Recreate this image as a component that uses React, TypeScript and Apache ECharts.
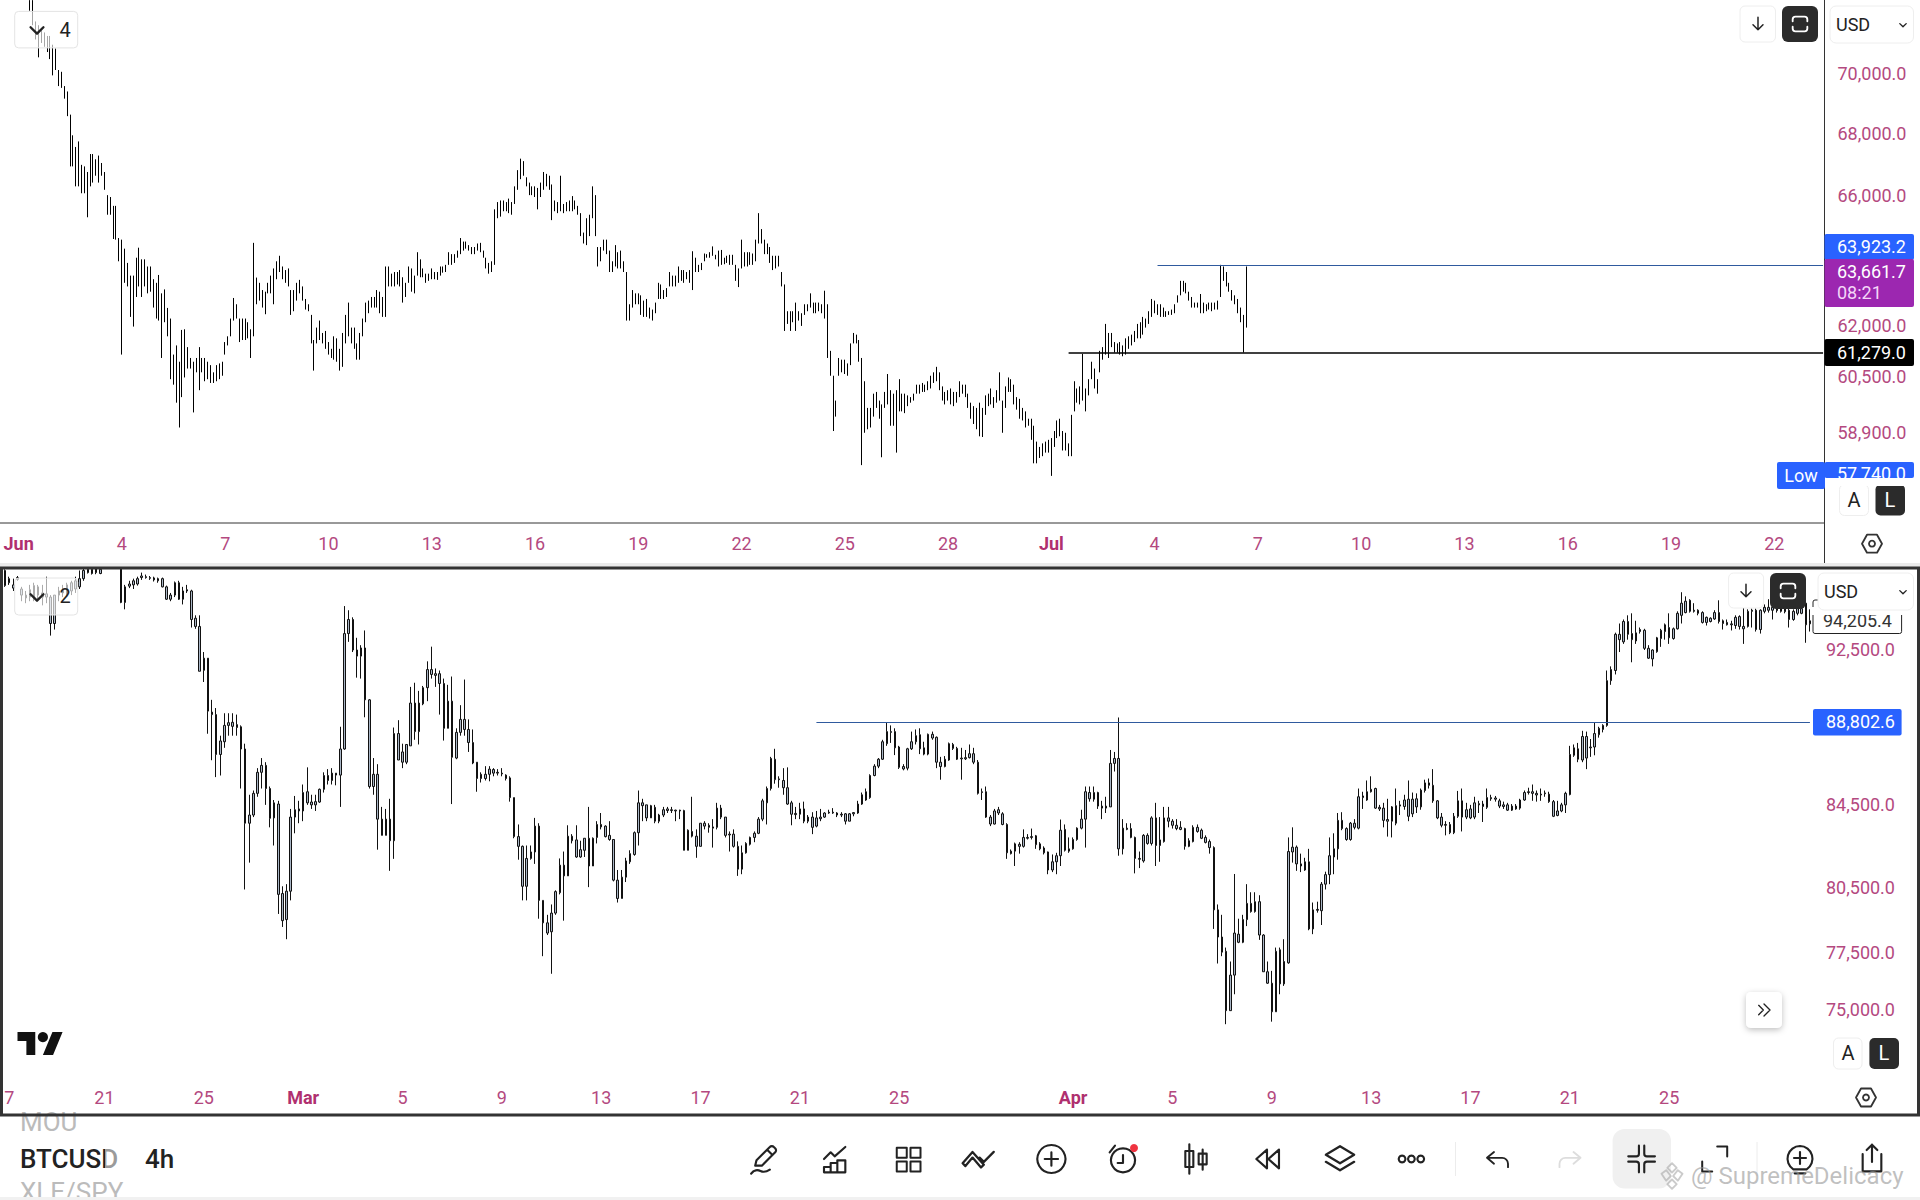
import React, { useEffect, useRef } from "react";
import * as echarts from "echarts";

// Upper pane rows, units of $10: [open, close, low, high]
const topHidden = 10;
const topJun1 = [
[7230,7250,7223,7260],[7190,7240,7173,7260],[7135,7172,7124,7186],[7090,7150,7063,7173],[7120,7145,7112,7155],[7110,7138,7099,7148],[7092,7125,7081,7136],[7075,7120,7057,7136],[7025,7085,7002,7106],[7035,7075,7020,7093],[6980,7008,6966,7020],[6972,7002,6960,7014],[6934,6956,6924,6966],[6885,6930,6866,6948],[6745,6835,6702,6871],[6725,6780,6702,6803],[6670,6735,6638,6765],[6670,6750,6638,6783],[6640,6690,6616,6707],[6635,6685,6616,6702],[6570,6650,6540,6684],[6665,6720,6638,6742],[6675,6720,6650,6742],[6685,6712,6672,6725],[6670,6720,6650,6737],[6682,6702,6672,6713],[6640,6670,6627,6684],[6562,6598,6548,6610],[6560,6592,6548,6604],[6495,6555,6472,6576],[6490,6555,6470,6576],[6420,6460,6403,6475],[6320,6440,6122,6470],[6360,6420,6337,6442],[6345,6385,6326,6398],[6265,6335,6234,6359],[6255,6330,6205,6359],[6320,6390,6294,6414],[6350,6420,6326,6445],[6320,6385,6294,6409],[6345,6390,6326,6409],[6325,6370,6305,6387],[6330,6370,6310,6387],[6285,6330,6262,6348],[6255,6315,6229,6337],[6260,6340,6223,6361],[6170,6275,6112,6305],[6245,6300,6218,6317],[6195,6245,6176,6261],[6095,6190,6050,6229],[6055,6105,6034,6122],[6020,6120,5982,6149],[5960,6060,5911,6101],[6040,6160,5998,6195],[6090,6170,6055,6197],[6095,6130,6081,6144],[6088,6105,6081,6112],[6040,6090,5954,6101],[6080,6102,6070,6112],[6050,6120,6018,6144]
];
const topJun2 = [
[6080,6102,6070,6112],[6060,6100,6044,6112],[6062,6090,6050,6101],[6050,6080,6039,6091],[6045,6062,6039,6070],[6055,6080,6044,6091],[6060,6085,6050,6096],[6068,6092,6060,6101],[6130,6150,6122,6159],[6155,6170,6149,6176],[6188,6218,6176,6229],[6240,6278,6223,6291],[6240,6262,6229,6272],[6175,6215,6159,6229],[6180,6215,6165,6229],[6178,6218,6165,6229],[6182,6208,6170,6218],[6130,6180,6112,6197],[6200,6320,6176,6460],[6290,6335,6272,6353],[6295,6325,6283,6337],[6275,6303,6262,6315],[6260,6295,6242,6310],[6312,6330,6305,6337],[6318,6345,6305,6359],[6300,6360,6272,6381],[6360,6390,6348,6403],[6382,6408,6370,6420],[6358,6378,6348,6387],[6347,6366,6337,6376],[6340,6370,6326,6381],[6260,6300,6240,6315],[6265,6300,6251,6315],[6295,6325,6283,6337],[6315,6335,6305,6346],[6295,6315,6283,6326],[6265,6280,6256,6288],[6256,6266,6251,6272],[6175,6225,6155,6240],[6095,6145,6075,6165],[6165,6190,6155,6202],[6178,6210,6165,6223],[6162,6178,6155,6186],[6152,6180,6139,6192],[6130,6150,6122,6159],[6118,6132,6112,6139],[6122,6162,6107,6176],[6118,6155,6101,6170],[6090,6125,6075,6139],[6110,6165,6086,6186],[6175,6222,6155,6240],[6200,6255,6176,6277],[6165,6190,6155,6202],[6155,6188,6139,6202],[6118,6145,6107,6155],[6125,6170,6107,6186],[6188,6218,6176,6229],[6232,6265,6218,6277],[6255,6275,6245,6283],[6270,6285,6262,6294]
];
const topJun3 = [
[6270,6285,6262,6294],[6275,6303,6262,6315],[6260,6295,6245,6310],[6250,6280,6234,6294],[6270,6360,6234,6387],[6340,6375,6326,6387],[6335,6355,6326,6365],[6338,6360,6326,6370],[6340,6360,6332,6370],[6338,6365,6326,6376],[6295,6340,6277,6354],[6305,6328,6294,6337],[6348,6375,6337,6387],[6325,6365,6310,6381],[6318,6345,6305,6359],[6375,6415,6359,6431],[6365,6395,6354,6409],[6360,6375,6354,6381],[6345,6358,6337,6365],[6348,6360,6343,6365],[6356,6372,6348,6381],[6354,6364,6348,6370],[6352,6364,6346,6370],[6365,6380,6359,6387],[6372,6382,6368,6387],[6376,6386,6370,6392],[6400,6422,6392,6431],[6400,6417,6392,6425],[6404,6418,6398,6425],[6420,6430,6414,6436],[6436,6462,6425,6475],[6442,6456,6436,6464],[6447,6458,6442,6464],[6440,6448,6436,6453],[6430,6442,6425,6447],[6431,6441,6425,6447],[6442,6452,6436,6458],[6438,6452,6431,6460],[6420,6430,6414,6436],[6388,6406,6381,6414],[6372,6390,6365,6398],[6378,6395,6370,6403],[6410,6540,6392,6565],[6545,6575,6537,6588],[6552,6580,6542,6593],[6566,6585,6559,6593],[6565,6580,6559,6588],[6562,6588,6553,6599],[6556,6578,6548,6588],[6592,6625,6582,6638],[6640,6675,6627,6690],[6675,6712,6661,6727],[6682,6708,6672,6719],[6645,6660,6638,6667],[6618,6640,6610,6650],[6616,6630,6610,6638],[6612,6628,6604,6638],[6580,6618,6565,6633],[6615,6638,6604,6650],[6640,6670,6627,6684]
];
const topJun4 = [
[6648,6668,6638,6678],[6638,6660,6627,6672],[6555,6620,6531,6644],[6566,6585,6559,6593],[6560,6580,6553,6588],[6565,6590,6559,6672],[6560,6574,6553,6582],[6565,6580,6559,6588],[6566,6585,6559,6593],[6570,6595,6559,6607],[6572,6586,6565,6593],[6555,6568,6548,6576],[6495,6540,6481,6553],[6465,6484,6458,6492],[6470,6520,6453,6537],[6495,6535,6481,6548],[6555,6620,6537,6638],[6500,6590,6481,6610],[6400,6435,6387,6447],[6412,6436,6403,6447],[6443,6460,6436,6470],[6435,6458,6425,6470],[6385,6420,6370,6436],[6378,6395,6370,6403],[6402,6438,6387,6453],[6392,6420,6381,6431],[6393,6425,6381,6436],[6378,6395,6370,6403],[6260,6345,6223,6370],[6235,6260,6223,6272],[6275,6303,6262,6315],[6280,6296,6272,6305],[6279,6297,6272,6305]
];
const topJul1 = [
[6255,6288,6240,6299],[6246,6272,6234,6283],[6246,6275,6234,6288],[6238,6254,6229,6262],[6230,6246,6223,6256],[6252,6268,6245,6277],[6298,6325,6288,6337],[6298,6320,6288,6332],[6295,6308,6288,6315],[6300,6314,6294,6321],[6335,6360,6326,6370],[6335,6350,6326,6359],[6333,6352,6326,6359],[6348,6375,6337,6387],[6350,6368,6343,6376],[6346,6368,6337,6376],[6354,6364,6348,6370],[6346,6366,6337,6376],[6340,6410,6315,6434],[6380,6402,6370,6414],[6376,6386,6370,6392],[6382,6392,6376,6398],[6408,6420,6403,6427],[6416,6422,6414,6425],[6418,6426,6414,6431],[6426,6442,6420,6449],[6412,6419,6409,6423],[6398,6425,6387,6436],[6403,6428,6392,6438],[6398,6408,6394,6414],[6404,6414,6398,6420],[6400,6416,6392,6423],[6398,6414,6392,6423],[6354,6380,6343,6392],[6338,6368,6324,6381],[6400,6450,6381,6470],[6396,6420,6387,6431],[6398,6420,6387,6431],[6400,6420,6392,6431],[6398,6418,6392,6427],[6418,6455,6403,6470],[6480,6530,6458,6553],[6470,6490,6458,6503],[6435,6458,6425,6470],[6432,6450,6425,6458],[6408,6435,6398,6447],[6386,6410,6376,6420],[6390,6410,6381,6420],[6394,6412,6387,6420],[6335,6360,6326,6370],[6225,6305,6192,6332],[6220,6242,6213,6251],[6205,6240,6192,6251],[6225,6242,6218,6251],[6210,6260,6192,6277],[6230,6244,6223,6251],[6215,6236,6207,6245],[6247,6265,6240,6272],[6256,6266,6251,6272],[6270,6295,6262,6305],[6252,6268,6245,6277],[6254,6270,6245,6277],[6257,6270,6251,6277],[6252,6265,6245,6272],[6248,6295,6229,6313],[6150,6255,6112,6272],[6075,6118,6060,6133],[5950,6035,5901,6060],[5952,5978,5942,5988]
];
const topJul2 = [
[6070,6100,6060,6112],[6078,6098,6070,6107],[6075,6098,6065,6107],[6068,6088,6060,6096],[6105,6140,6091,6155],[6162,6178,6155,6186],[6161,6174,6155,6181],[6115,6150,6101,6165],[5990,6095,5805,6112],[5950,6020,5896,6044],[5918,5952,5906,5967],[5925,5955,5911,5967],[5955,5992,5942,6008],[5975,6002,5967,6013],[5948,5975,5936,5988],[5900,5960,5827,5977],[5976,6003,5967,6013],[5995,6048,5977,6065],[5940,6000,5916,6018],[5940,5990,5916,6008],[5925,5998,5840,6018],[5975,6030,5957,6050],[5968,5995,5957,6008],[5965,5995,5952,6008],[5980,5995,5972,6003],[5985,5994,5982,5998],[5993,6002,5988,6008],[6014,6028,6008,6034],[6013,6027,6008,6034],[6019,6032,6013,6039],[6018,6028,6013,6034],[6024,6038,6018,6044],[6032,6052,6023,6060],[6046,6062,6039,6070],[6054,6076,6044,6086],[6030,6058,6018,6070],[5997,6020,5988,6029],[5985,6005,5977,6013],[5995,6012,5988,6018],[5988,6013,5977,6023],[5982,6005,5972,6013],[5990,6006,5982,6013],[6008,6035,5998,6044],[6013,6027,6008,6034],[6006,6026,5998,6034],[5977,5998,5967,6008],[5946,5972,5936,5982],[5933,5960,5921,5972],[5920,5952,5906,5967],[5910,5960,5886,5982],[5905,5950,5884,5967],[5960,5990,5947,6003],[5980,6000,5972,6008],[5988,6012,5977,6023],[5975,5990,5967,5998],[5990,6010,5982,6018],[6005,6050,5988,6070],[5920,5970,5896,5988],[5980,6015,5967,6029],[6022,6045,6013,6055],[6022,6042,6013,6050],[5990,6020,5977,6034],[5970,5990,5962,5998],[5948,5980,5936,5993],[5938,5958,5931,5967],[5920,5945,5911,5957],[5921,5931,5916,5936],[5890,5925,5876,5936],[5835,5895,5810,5916],[5822,5858,5810,5871],[5832,5848,5825,5856],[5838,5858,5830,5866],[5848,5863,5840,5871],[5848,5868,5840,5876],[5840,5870,5775,5881],[5866,5892,5856,5901],[5892,5920,5881,5931],[5897,5925,5886,5936],[5858,5890,5846,5901],[5858,5885,5846,5896],[5838,5858,5830,5866],[5860,5930,5830,5947]
];
const topJul3 = [
[5975,6025,5957,6044],[5992,6012,5982,6023],[5988,6015,5977,6029],[6020,6100,5988,6124],[5972,6010,5957,6023],[6014,6040,6003,6050],[6062,6090,6050,6101],[6035,6068,6023,6081],[6018,6040,6008,6050],[6085,6120,6070,6133],[6115,6135,6107,6144],[6142,6195,6122,6213],[6128,6170,6112,6186],[6153,6175,6144,6186],[6135,6150,6128,6159],[6134,6148,6128,6155],[6130,6150,6122,6159],[6124,6141,6117,6149],[6132,6158,6122,6170],[6148,6168,6139,6176],[6156,6174,6149,6181],[6166,6184,6159,6192],[6180,6204,6170,6213],[6181,6208,6170,6218],[6193,6222,6181,6234],[6208,6222,6202,6229],[6222,6243,6213,6251],[6246,6276,6234,6288],[6254,6274,6245,6283],[6247,6265,6240,6272],[6243,6264,6234,6272],[6240,6255,6234,6262],[6238,6247,6234,6251],[6243,6248,6240,6251],[6244,6252,6240,6256],[6251,6265,6245,6272],[6282,6293,6277,6299],[6308,6332,6299,6343],[6318,6335,6310,6343],[6312,6330,6305,6337],[6290,6303,6283,6310],[6270,6286,6262,6294],[6266,6273,6262,6277],[6265,6272,6262,6277],[6258,6290,6245,6303],[6252,6268,6245,6277],[6256,6266,6251,6272],[6261,6272,6256,6277],[6257,6271,6251,6277],[6262,6271,6256,6277],[6262,6276,6256,6283],[6315,6375,6294,6392],[6352,6378,6343,6387],[6335,6360,6326,6370],[6316,6330,6310,6337],[6290,6307,6283,6315],[6278,6292,6272,6299],[6255,6278,6245,6288],[6228,6252,6218,6262],[6150,6225,6128,6240],[6240,6380,6202,6387]
];

// Lower pane, 4h BTCUSD rows, units of $10 before the axis calibration: [open, close, low, high]
const btcFeb = [
[9600,9685,9593,9692],[9616,9639,9604,9650],[9586,9604,9570,9639],[9635,9645,9627,9654],[9547,9581,9513,9593],[9531,9547,9502,9570],[9536,9577,9513,9604],[9536,9600,9513,9616],[9547,9593,9524,9604],[9536,9559,9490,9604],[9536,9554,9502,9650],[9390,9536,9324,9547],[9390,9547,9357,9547],[9547,9570,9513,9593],[9559,9581,9536,9604],[9547,9604,9536,9616],[9570,9616,9547,9627],[9581,9627,9559,9650],[9593,9639,9581,9685],[9639,9685,9627,9696],[9673,9692,9668,9701],[9668,9692,9662,9708],[9673,9696,9664,9708],[9668,9692,9664,9701],[9740,9770,9725,9790],[9790,9830,9770,9860],[9760,9810,9745,9835],[9730,9770,9705,9790],
[9506,9696,9502,9708],[9506,9593,9468,9604],[9597,9609,9586,9627],[9604,9627,9581,9639],[9609,9639,9600,9650],[9645,9654,9632,9673],[9645,9650,9639,9662],[9641,9645,9632,9654],[9632,9643,9623,9650],[9627,9639,9616,9645],[9593,9639,9590,9645],[9524,9593,9520,9600],[9524,9547,9513,9559],[9547,9616,9536,9623],[9524,9616,9520,9627],[9524,9570,9495,9593],[9570,9577,9559,9604],[9412,9570,9368,9577],[9374,9419,9361,9435],[9132,9374,9132,9435],[9137,9202,9075,9235],[8922,9202,8805,9202],[8904,8917,8670,8981],[8699,8904,8585,8938],[8699,8768,8593,8795],[8764,8848,8733,8911],[8848,8862,8795,8911],[8843,8864,8795,8911],[8837,8852,8795,8904],[8727,8841,8528,8848],[8357,8727,8040,8754],[8357,8397,8167,8497],[8397,8504,8387,8518],[8504,8609,8487,8630],[8609,8644,8528,8681],[8528,8644,8447,8660],[8381,8528,8337,8538],[8383,8457,8249,8471],[8017,8451,7926,8467],[7895,8021,7866,8055],[7900,8032,7810,8065]
];
const btcMar1 = [
[8032,8387,7989,8427],[8387,8423,8308,8491],[8417,8427,8357,8467],[8417,8508,8367,8548],[8457,8512,8447,8634],[8447,8461,8427,8497],[8447,8463,8417,8497],[8461,8524,8457,8528],[8524,8593,8508,8609],[8568,8593,8548,8625],[8568,8605,8548,8630],[8595,8605,8544,8605],[8595,8727,8437,8841],[8727,9335,8723,9486],[9335,9412,9290,9463],[9246,9412,9235,9424],[9213,9246,9098,9312],[9213,9257,9093,9272],[8981,9257,8890,9352],[8538,8981,8528,8985],[8538,8599,8497,8681],[8377,8599,8229,8650],[8298,8377,8298,8437],[8298,8377,8298,8427],[8272,8377,8128,8477],[8272,8806,8185,8837],[8671,8806,8671,8875],[8660,8712,8630,8754],[8660,8750,8650,8750],[8743,8964,8743,9049],[8816,8964,8774,9071],[8816,8964,8750,9028],[8960,9045,8953,9054],[9045,9141,8974,9185],[9115,9141,9093,9264],[9110,9119,9049,9147],[9067,9119,8904,9136],[8833,9067,8770,9093],[8833,8974,8833,9060],[8685,8974,8451,9104],[8681,8812,8675,8833],[8812,8879,8795,8953],[8827,8879,8795,9088],[8760,8827,8712,8879],[8656,8760,8650,8827],[8578,8660,8512,8660],[8578,8599,8558,8609],[8578,8599,8568,8640],[8599,8625,8564,8640],[8605,8623,8589,8630],[8605,8609,8593,8625],[8601,8605,8589,8630],[8578,8595,8568,8599],[8483,8581,8463,8589],[8292,8483,8284,8483],[8245,8292,8181,8351],[8055,8245,7989,8249],[8055,8187,7989,8249],[8187,8218,8181,8249],[8218,8343,8161,8383],[7989,8343,7904,8357],[7885,7989,7733,7989],[7838,7885,7829,7922],[7844,7930,7654,7970],[7930,8030,7922,8036],[8025,8155,8017,8187],[8104,8155,7895,8220],[8104,8294,8104,8347],[8272,8294,8259,8304],[8194,8276,8190,8347],[8194,8229,8190,8272],[8226,8284,8194,8284],[8151,8284,8051,8437],[8151,8284,8151,8288],[8288,8351,8259,8367],[8339,8351,8327,8407],[8292,8343,8288,8347],[8278,8298,8272,8367],[8084,8278,8078,8278],[7998,8084,7979,8132],[7998,8098,7998,8132],[8098,8175,8075,8190],[8171,8210,8161,8226],[8206,8311,8200,8317],[8311,8457,8249,8518]
];
const btcMar2 = [
[8443,8457,8367,8477],[8383,8447,8367,8447],[8383,8443,8383,8447],[8367,8435,8357,8447],[8367,8397,8357,8403],[8397,8423,8387,8437],[8419,8427,8407,8437],[8419,8423,8407,8437],[8417,8421,8367,8423],[8417,8421,8377,8423],[8226,8419,8226,8423],[8226,8323,8226,8327],[8294,8317,8288,8487],[8245,8294,8190,8327],[8245,8357,8245,8357],[8343,8357,8327,8367],[8337,8347,8311,8357],[8333,8339,8239,8377],[8337,8431,8327,8457],[8387,8431,8377,8447],[8298,8387,8288,8387],[8300,8304,8220,8317],[8245,8304,8239,8327],[8136,8245,8104,8269],[8136,8214,8112,8249],[8214,8259,8210,8265],[8255,8288,8249,8292],[8288,8308,8265,8317],[8308,8377,8304,8387],[8377,8467,8367,8477],[8457,8528,8351,8538],[8528,8679,8518,8687],[8572,8675,8552,8728],[8572,8576,8532,8589],[8532,8568,8497,8630],[8451,8532,8447,8634],[8401,8457,8347,8467],[8399,8405,8377,8437],[8401,8427,8377,8457],[8367,8427,8357,8463],[8367,8387,8357,8397],[8337,8387,8304,8411],[8343,8383,8337,8417],[8379,8387,8367,8427],[8387,8407,8383,8411],[8407,8411,8403,8423],[8407,8411,8403,8431],[8397,8407,8387,8411],[8397,8401,8387,8411],[8367,8403,8351,8407],[8367,8403,8367,8407],[8403,8409,8391,8411],[8407,8451,8403,8467],[8451,8497,8447,8508],[8471,8512,8467,8528],[8483,8593,8477,8599],[8593,8640,8589,8650],[8640,8675,8630,8681],[8675,8764,8671,8774],[8754,8816,8743,8862],[8812,8816,8758,8848]
];
const btcMar3 = [
[8733,8816,8696,8833],[8634,8737,8626,8743],[8626,8638,8619,8650],[8630,8728,8619,8733],[8728,8764,8722,8816],[8764,8795,8750,8827],[8728,8800,8701,8833],[8701,8733,8695,8764],[8701,8802,8695,8806],[8783,8802,8774,8816],[8660,8787,8630,8791],[8638,8660,8572,8687],[8638,8675,8634,8691],[8671,8754,8667,8760],[8730,8750,8722,8758],[8675,8730,8671,8738],[8677,8681,8572,8733],[8677,8683,8671,8722],[8683,8703,8679,8750],[8660,8703,8650,8733],[8504,8660,8498,8671],[8508,8512,8471,8528],[8387,8512,8383,8538],[8353,8387,8343,8397],[8353,8417,8351,8427],[8407,8423,8397,8437],[8351,8403,8347,8411],[8214,8351,8185,8357],[8210,8222,8206,8230],[8222,8257,8151,8263],[8245,8255,8210,8265],[8245,8288,8239,8327],[8284,8288,8278,8304],[8288,8292,8278,8331],[8253,8296,8233,8300],[8233,8257,8226,8265],[8214,8237,8206,8245],[8132,8218,8112,8220],[8132,8171,8122,8206],[8171,8200,8112,8214],[8200,8323,8151,8375],[8226,8327,8220,8351],[8222,8233,8214,8288],[8233,8278,8229,8288],[8278,8333,8272,8337],[8333,8377,8327,8423],[8377,8512,8239,8538],[8477,8508,8463,8538],[8475,8508,8463,8538],[8441,8508,8427,8512],[8431,8441,8377,8467],[8431,8441,8407,8487],[8437,8654,8437,8722],[8654,8679,8613,8712],[8233,8679,8200,8889],[8233,8333,8206,8377],[8327,8333,8323,8357],[8288,8331,8284,8357],[8187,8288,8116,8292],[8183,8187,8141,8220],[8175,8298,8167,8304],[8259,8298,8253,8308],[8259,8383,8249,8391],[8249,8383,8151,8457],[8249,8276,8171,8387],[8268,8383,8263,8437],[8367,8383,8337,8437],[8347,8367,8331,8377],[8331,8347,8323,8377],[8327,8337,8323,8367],[8245,8331,8229,8335],[8245,8272,8241,8284],[8268,8337,8264,8347],[8317,8337,8311,8351],[8284,8323,8280,8331],[8264,8288,8259,8298],[8239,8268,8210,8278]
];
const btcApr1 = [
[7945,8239,7857,8245],[7820,7945,7700,7970],[7751,7820,7733,7922],[7491,7755,7432,7772],[7491,7648,7491,7709],[7648,7838,7563,8113],[7796,7833,7792,7904],[7796,7900,7792,7922],[7900,7975,7870,8065],[7937,7975,7932,8027],[7937,7983,7932,8027],[7829,7983,7807,8013],[7663,7829,7663,7833],[7612,7663,7609,7709],[7486,7612,7443,7667],[7486,7755,7486,7772],[7609,7762,7563,7772],[7609,7709,7600,7810],[7703,8220,7699,8288],[8218,8241,8167,8337],[8161,8241,8128,8249],[8151,8161,8122,8210],[8132,8171,8128,8190],[7857,8171,7851,8233],[7857,7945,7833,7979],[7943,7947,7932,7983],[7941,8065,7875,8075],[8065,8110,8040,8124],[8110,8200,8065,8288],[8194,8233,8112,8308],[8233,8371,8181,8407],[8331,8371,8323,8411],[8278,8331,8272,8337],[8278,8357,8272,8363],[8337,8357,8327,8377],[8333,8487,8327,8528],[8483,8491,8427,8512],[8471,8512,8467,8568],[8512,8524,8508,8589],[8431,8528,8427,8532],[8427,8435,8417,8447],[8371,8431,8337,8457],[8367,8375,8292,8477],[8367,8437,8288,8441],[8357,8443,8347,8528],[8441,8447,8397,8467],[8439,8471,8423,8497],[8391,8475,8367,8568],[8403,8475,8387,8508],[8437,8477,8407,8504],[8437,8520,8423,8528],[8518,8556,8508,8572],[8544,8556,8528,8578],[8467,8544,8457,8625],[8383,8467,8377,8471],[8347,8387,8337,8407],[8347,8351,8298,8367],[8311,8351,8304,8363],[8311,8391,8304,8407],[8391,8467,8383,8516],[8387,8467,8317,8528],[8387,8423,8377,8457],[8383,8427,8377,8447],[8387,8457,8377,8487],[8447,8453,8407,8467],[8439,8451,8363,8467],[8435,8483,8427,8528],[8477,8483,8467,8497],[8475,8481,8463,8491],[8441,8467,8431,8477],[8439,8447,8427,8463],[8421,8447,8417,8457],[8421,8441,8417,8451],[8427,8441,8423,8451],[8431,8471,8423,8477],[8471,8508,8467,8518],[8508,8512,8498,8532],[8504,8512,8467,8548],[8496,8504,8463,8518],[8496,8500,8467,8528],[8502,8506,8487,8518],[8463,8500,8457,8512],[8391,8463,8387,8471],[8395,8417,8391,8467],[8417,8447,8411,8457],[8447,8504,8407,8512]
];
const btcApr2 = [
[8498,8699,8494,8743],[8695,8733,8687,8750],[8675,8728,8660,8758],[8671,8791,8660,8820],[8681,8791,8625,8816],[8733,8737,8687,8778],[8737,8806,8695,8862],[8800,8833,8785,8841],[8827,8848,8812,8854],[8848,9082,8841,9136],[9082,9141,9060,9158],[9136,9331,9115,9340],[9302,9331,9235,9390],[9290,9401,9279,9412],[9331,9401,9302,9435],[9302,9335,9180,9446],[9295,9339,9279,9405],[9346,9357,9335,9368],[9255,9353,9246,9361],[9202,9255,9198,9272],[9198,9246,9158,9250],[9237,9312,9231,9317],[9308,9353,9263,9361],[9346,9383,9302,9390],[9312,9368,9279,9446],[9308,9361,9302,9368],[9361,9446,9357,9457],[9435,9502,9390,9563],[9450,9513,9446,9540],[9457,9518,9450,9524],[9457,9463,9450,9502],[9446,9463,9435,9468],[9396,9450,9390,9457],[9396,9424,9379,9428],[9401,9419,9396,9424],[9415,9450,9410,9463],[9401,9450,9390,9518],[9390,9405,9357,9412],[9383,9396,9379,9412],[9383,9388,9352,9405],[9379,9424,9361,9435],[9374,9428,9357,9435],[9361,9374,9279,9490],[9374,9457,9368,9468],[9457,9463,9368,9472],[9357,9463,9346,9472],[9357,9463,9335,9468],[9457,9479,9446,9495],[9463,9479,9450,9524],[9463,9479,9412,9490],[9461,9472,9450,9513],[9457,9472,9450,9490],[9455,9472,9446,9486],[9412,9463,9368,9472],[9412,9457,9405,9468],[9446,9472,9435,9479],[9446,9472,9441,9486],[9383,9502,9285,9502],[9388,9405,9346,9468]
];

const topTickIndex = [6,42,78,114,150,186,222,258,294,330,366,402,438,474,510,546,582,618];
const topTickLabels = ["Jun","4","7","10","13","16","19","22","25","28","Jul","4","7","10","13","16","19","22"];
const bottomTickIndex = [1,24,48,72,96,120,144,168,192,216,258,282,306,330,354,378,402];
const bottomTickLabels = ["7","21","25","Mar","5","9","13","17","21","25","Apr","5","9","13","17","21","25"];
const topPriceTicks = [58900,60500,62000,66000,68000,70000];
const bottomPriceTicks = [75000,77500,80500,84500,92500];
const topResistance = 63923.2;
const topSupport = 61279.0;
const bottomResistance = 88802.6;
const topLast = "63,661.7";
const topCountdown = "08:21";
const topLow = "57,740.0";
const bottomLast = "94,205.4";

const PINK = "#b4497f";
const BLUE = "#2962ff";
const DARK = "#2b2b2b";
const LINE_BLUE = "#2f5a9e";
const TOP_BARS = 636;
const BOTTOM_BARS = 437;
const BOTTOM_CALIBRATION = 150;
const monthNames = ["Jun","Jul","Mar","Apr"];

const topRows = [...topJun1,...topJun2,...topJun3,...topJun4,...topJul1,...topJul2,...topJul3];
const bottomRows = [...btcFeb,...btcMar1,...btcMar2,...btcMar3,...btcApr1,...btcApr2];
const ICONS:Record<string,string> = {
  pen:"M5 17l1-4L16 3a2 2 0 0 1 3 0l1 1a2 2 0 0 1 0 3L10 17zM14 5l4 4M2 23c2-3 5-3 7-2s4 1 7-1",
  ind:"M3 12l5-5 3 3 8-7M3 22v-4h5v4zM8 22v-7h5v7zM13 22v-9h6v9z",
  grid:"M3 3h8v8H3zM14 3h8v8h-8zM3 14h8v8H3zM14 14h8v8h-8z",
  tpl:"M2 17l5-6 6 7 2-2-8-9-7 8zM12 11l3 3 7-7",
  plus:"M12 1.5a10.5 10.5 0 1 0 .01 0zM12 7v10M7 12h10",
  alarm:"M12 4a9 9 0 1 0 .01 0zM12 9v6H8M2 7l4-5",
  candle:"M7 1v22M17 5v15M4 6h6v12H4zM14 8h6v8h-6z",
  rew:"M12 5l-8 7 8 7zM21 5l-8 7 8 7z",
  layer:"M12 3l10 6-10 6L2 9zM2 14l10 6 10-6",
  dots:"M5 9.5a2.5 2.5 0 1 0 .01 0zM12 9.5a2.5 2.5 0 1 0 .01 0zM19 9.5a2.5 2.5 0 1 0 .01 0z",
  undo:"M9 6l-6 5 6 5M3 11h13a5 5 0 0 1 5 5v3",
  redo:"M15 6l6 5-6 5M21 11H8a5 5 0 0 0-5 5v3",
  inw:"M10 2v6a2 2 0 0 1-2 2H2M14 2v6a2 2 0 0 0 2 2h6M2 14h6a2 2 0 0 1 2 2v6M22 14h-6a2 2 0 0 0-2 2v6",
  outw:"M14 2h8v8M10 22H2v-8",
  bulb:"M12 1.5a9.5 9.5 0 0 0-5 17.5h10a9.5 9.5 0 0 0-5-17.5zM12 6v9M7.5 10.5h9M8 22h8",
  share:"M5 9v13h14V9M12 2v13M8 6l4-4 4 4",
  sync:"M4 9V7a3 3 0 0 1 3-3h10a3 3 0 0 1 3 3v2M4 15v2a3 3 0 0 0 3 3h10a3 3 0 0 0 3-3v-2",
  down:"M12 4v15M6 13l6 6 6-6",
  chev:"M5 9l7 7 7-7",
  fwd:"M4 5l7 7-7 7M12 3l9 9-9 9",
  hex:"M7 3h10l5 9-5 9H7l-5-9zM12 9a3 3 0 1 0 .01 0z",
  diamond:"M12 1l4 4-4 4-4-4zM3 10l4-3 4 5-4 4zM21 10l-4-3-4 5 4 4zM12 15l4 4-4 4-4-4z",
};
Object.keys(ICONS).forEach(k => echarts.graphic.registerShape("ic_"+k, (echarts.graphic as any).extendPath(ICONS[k], {})));
echarts.graphic.registerShape("tvlogo", (echarts.graphic as any).extendPath("M14 22H7V11H0V4h14v18zM28 22h-8l7.5-18h8L28 22zM20 4a4 4 0 1 1-.01 0z", {}));

const icon = (k:string,cx:number,cy:number,size:number,color:string,lw=1.6,z=110) => ({
  type:"ic_"+k, x:cx-size/2, y:cy-size/2, scaleX:size/24, scaleY:size/24, z, silent:true,
  style:{fill:"none",stroke:color,lineWidth:lw,lineJoin:"round",lineCap:"round"},
});
const box = (x:number,y:number,w:number,h:number,fill:string,r=0,stroke?:string,z=100) => ({
  type:"rect", z, silent:true, shape:{x,y,width:w,height:h,r}, style:{fill,stroke:stroke||"none",lineWidth:stroke?1:0},
});
const label = (text:string,x:number,y:number,font:string,fill:string,align="left",z=105) => ({
  type:"text", z, silent:true, style:{text,x,y,font,fill,textAlign:align,textVerticalAlign:"middle",align,verticalAlign:"middle"},
});
const line = (x1:number,y1:number,x2:number,y2:number,stroke:string,w=1,z=100) => ({
  type:"line", z, silent:true, shape:{x1,y1,x2,y2}, style:{stroke,lineWidth:w},
});

const F18 = '18px Roboto';
const money = (v:number) => v.toLocaleString("en-US",{minimumFractionDigits:1});
const chrome:any[] = [
  line(0,523,1824.5,523,"#333"), line(1824.5,0,1824.5,563,"#333"),
  box(0,563,1920,5,"#ebebeb"),
  box(1824.5,234,89.5,26,BLUE,2), label(money(topResistance),1837,246,F18,"#fff"),
  box(1824.5,259,89.5,48,"#9c27b0",2), label(topLast,1837,271,F18,"#fff"), label(topCountdown,1837,292,F18,"#f4d6f8"),
  box(1824.5,339,89.5,27,"#000",2), label(money(topSupport),1837,352,F18,"#fff"),
  box(1777,462,48,27,BLUE,2), label("Low",1801,475,F18,"#fff","center"),
  box(1824.5,462,89.5,16,BLUE,2), label(topLow,1837,473,F18,"#fff"),
  box(1825.5,478,95,8,"#fff",0,undefined,106),
  box(1830,6,83.5,37,"#fff",6,"#eeeeee"), label("USD",1836,24,F18,"#222"), icon("chev",1903,25,11,"#222",3),
  box(1740,6,35.5,36,"#fff",5,"#eeeeee"), icon("down",1758,24,20,"#222",1.8),
  box(1782,6,36,36,DARK,6), icon("sync",1800,24,22,"#fff",2),
  box(1839.5,484.5,29,31,"#fff",5,"#eeeeee"), label("A",1854,500,'20px Roboto',"#222","center"),
  box(1875.5,484.5,29.5,31,DARK,5), label("L",1890,500,'20px Roboto',"#fff","center"),
  icon("hex",1872,543.7,24,"#333",1.8),
  box(14.7,11.4,63,36.5,"rgba(255,255,255,0.65)",4,"#e4e4e4"), icon("chev",37,30,22,"#222",2.6), label("4",65,29.5,'20px Roboto',"#222","center"),
  box(1813,600,88.6,33.5,"#fff",2,"#222",99), label(bottomLast,1857.5,620,F18,"#333","center",99),
  box(1812,607,92,8,"#fff",0,undefined,99.5),
  box(1818,573,95.5,37,"#fff",6,"#eeeeee"), label("USD",1824,591,F18,"#222"), icon("chev",1903,592,11,"#222",3),
  box(1728.6,573,35,35,"#fff",5,"#eeeeee"), icon("down",1746,591,20,"#222",1.8),
  box(1770,573,36,36,DARK,6), icon("sync",1788,591,22,"#fff",2),
  box(1813,709,88.6,26.5,BLUE,2), label(money(bottomResistance),1826,721,F18,"#fff"),
  {...box(1746,992,36,36,"#fff",5), style:{fill:"#fff",shadowBlur:6,shadowOffsetY:2,shadowColor:"rgba(0,0,0,0.25)"}}, icon("fwd",1764,1010,16,"#222",2),
  box(1833.5,1038,28.5,31,"#fff",5,"#eeeeee"), label("A",1848,1053,'20px Roboto',"#222","center"),
  box(1869.4,1038,29.6,31,DARK,5), label("L",1884,1053,'20px Roboto',"#fff","center"),
  icon("hex",1866,1097.5,24,"#333",1.8),
  box(14.7,578,63,37,"rgba(255,255,255,0.65)",4,"#e4e4e4"), icon("chev",37,597,22,"#222",2.6), label("2",65,596,'20px Roboto',"#222","center"),
  {type:"tvlogo",x:17.5,y:1027,scaleX:1.27,scaleY:1.27,z:100,silent:true,style:{fill:"#111"}},
  label("MOU",20,1122,'26px Roboto',"#bbbbbb","left",101),
  {type:"rect",z:103,silent:true,shape:{x:1.5,y:568,width:1917,height:547},style:{fill:"none",stroke:"#333",lineWidth:3}},
  label("BTCUSD",20,1159,'500 26px Roboto',"#222"),
  box(105,1140,14,40,"rgba(255,255,255,0.55)",0,undefined,106),
  label("4h",145,1159,'500 26px Roboto',"#222"),
  label("XLE/SPY",20,1192,'26px Roboto',"#bbbbbb","left",101),
  box(0,1197,1920,3,"#f1f1f1",0,undefined,102),
  icon("pen",764.5,1159,32,"#222"), icon("ind",836,1159,32,"#222"), icon("grid",908,1159,30,"#222"),
  icon("tpl",979.6,1159,34,"#222"), icon("plus",1051.4,1159,32,"#222"), icon("alarm",1123,1159,32,"#222"),
  {type:"circle",z:111,silent:true,shape:{cx:1134,cy:1148,r:4},style:{fill:"#ef3340"}},
  icon("candle",1196,1159,32,"#222"), icon("rew",1267,1159,32,"#222"), icon("layer",1340,1159,34,"#222"),
  icon("dots",1411.4,1159,32,"#222"),
  line(1455.5,1142,1455.5,1176,"#ececec"), line(1757,1142,1757,1176,"#ececec"),
  icon("undo",1497.5,1159,28,"#222"), icon("redo",1570,1159,28,"#dddddd"),
  box(1612.6,1129,58.4,59.6,"#f0f0f0",12),
  icon("inw",1641.6,1159,32,"#222"), icon("outw",1714.7,1159,30,"#222"),
  icon("bulb",1800,1160,32,"#222"), icon("share",1872,1158,32,"#222"),
  icon("diamond",1672,1176,28,"rgba(160,160,160,0.55)",1.6,120),
  label("@ SupremeDelicacy",1691,1176,'24px Roboto',"rgba(150,150,150,0.6)","left",120),
];

export default function App() {
  const ref = useRef<HTMLDivElement>(null);
  useEffect(() => {
    const chart = echarts.init(ref.current!, undefined, { renderer:"svg", width:1920, height:1200 });
    const topCats = Array.from({length:TOP_BARS},(_,i)=>String(i));
    const bottomCats = Array.from({length:BOTTOM_BARS},(_,i)=>String(i));
    const xFmt = (idx:number[],lab:string[]) => ({
      interval:(i:number)=>idx.includes(i),
      formatter:(v:string)=>{const t=lab[idx.indexOf(Number(v))]; if(t===undefined) return ""; return monthNames.includes(t)?`{m|${t}}`:t;},
      color:PINK, fontFamily:"Roboto", fontSize:18, hideOverlap:false,
      rich:{m:{color:"#b0306f",fontFamily:"Roboto",fontSize:18,fontWeight:700}},
    });
    const yFmt = (lift:number) => ({
      color:PINK,fontFamily:"Roboto",fontSize:18,align:"left",
      formatter:(v:number)=>`{p|${money(Number(v))}}`,
      rich:{p:{color:PINK,fontFamily:"Roboto",fontSize:18,padding:[0,0,lift,0]}},
    });
    const option:any = {
      animation:false,
      backgroundColor:"#fff",
      grid:[
        {left:0,top:0,width:1824.5,height:523},
        {left:3,top:570,width:1809,height:510},
      ],
      xAxis:[
        {type:"category",gridIndex:0,data:topCats,axisLine:{show:false},axisTick:{show:false},splitLine:{show:false},axisLabel:{...xFmt(topTickIndex,topTickLabels),margin:11}},
        {type:"category",gridIndex:1,data:bottomCats,axisLine:{show:false},axisTick:{show:false},splitLine:{show:false},axisLabel:{...xFmt(bottomTickIndex,bottomTickLabels),margin:8}},
      ],
      yAxis:[
        {type:"log",logBase:10,gridIndex:0,position:"right",min:56456,max:72605,axisLine:{show:false},axisTick:{show:false},splitLine:{show:false},axisLabel:{...yFmt(5),margin:13,customValues:topPriceTicks}},
        {type:"log",logBase:10,gridIndex:1,position:"right",min:72088,max:97028,axisLine:{show:false},axisTick:{show:false},splitLine:{show:false},axisLabel:{...yFmt(6),margin:14,customValues:bottomPriceTicks}},
      ],
      series:[
        {type:"candlestick",large:false,xAxisIndex:0,yAxisIndex:0,barWidth:1,
          data:[...Array.from({length:topHidden},()=>"-"),...topRows.map(r=>r.map(v=>v*10))],
          itemStyle:{color:"#000",color0:"#000",borderColor:"#000",borderColor0:"#000",borderWidth:1},
          markLine:{silent:true,symbol:"none",animation:false,label:{show:false},data:[
            [{xAxis:403,yAxis:topResistance,lineStyle:{color:LINE_BLUE,width:1,type:"solid"}},{xAxis:TOP_BARS-1,yAxis:topResistance}],
            [{xAxis:372,yAxis:topSupport,lineStyle:{color:"#000",width:1.5,type:"solid"}},{xAxis:TOP_BARS-1,yAxis:topSupport}],
          ]}},
        {type:"candlestick",large:false,xAxisIndex:1,yAxisIndex:1,barWidth:2,
          data:bottomRows.map(r=>r.map(v=>v*10+BOTTOM_CALIBRATION)),
          itemStyle:{color:"#a9b6c6",color0:"#a9b6c6",borderColor:"#111",borderColor0:"#111",borderWidth:1},
          markLine:{silent:true,symbol:"none",animation:false,label:{show:false},data:[
            [{xAxis:196,yAxis:bottomResistance,lineStyle:{color:LINE_BLUE,width:1,type:"solid"}},{xAxis:BOTTOM_BARS-1,yAxis:bottomResistance}],
          ]}},
      ],
      graphic:{elements:chrome},
    };
    chart.setOption(option);
    return () => chart.dispose();
  }, []);
  return <div ref={ref} style={{position:"fixed",left:0,top:0,width:1920,height:1200,background:"#fff"}} />;
}
